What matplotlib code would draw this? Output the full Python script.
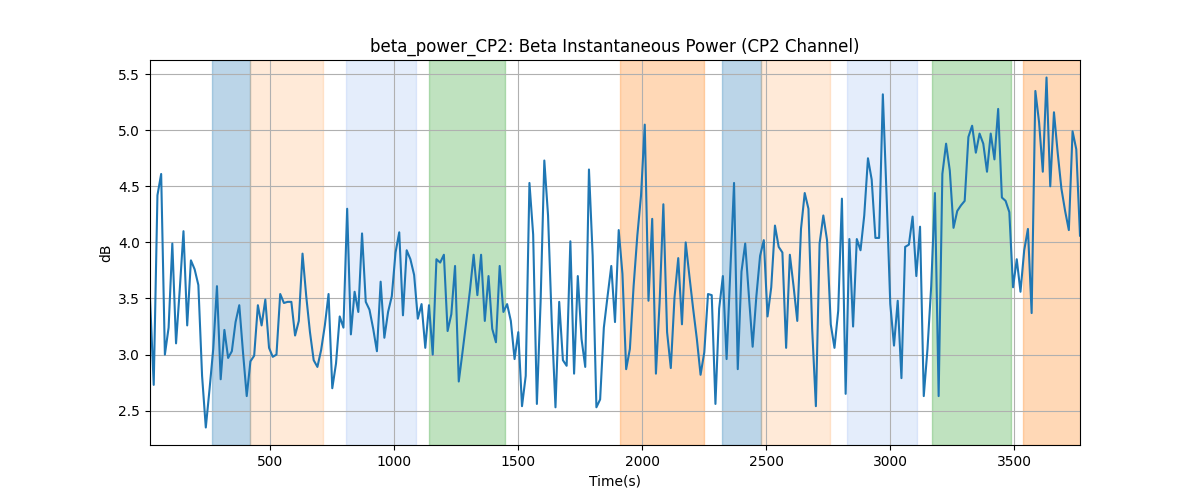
import matplotlib
matplotlib.use("Agg")
import matplotlib.pyplot as plt
import numpy as np

# beta power samples, one every 15 s
beta_power = [
    3.50, 2.73, 4.42, 4.61, 3.00, 3.24, 3.99, 3.10, 3.58, 4.10,
    3.26, 3.84, 3.76, 3.62, 2.81, 2.35, 2.69, 3.05, 3.61, 2.78,
    3.22, 2.97, 3.03, 3.29, 3.44, 3.02, 2.63, 2.94, 2.99, 3.44,
    3.26, 3.49, 3.06, 2.98, 3.00, 3.54, 3.46, 3.47, 3.47, 3.17,
    3.30, 3.90,
    3.52, 3.20, 2.95, 2.89, 3.04, 3.26, 3.54, 2.70, 2.92, 3.34,
    3.24, 4.30, 3.18, 3.56, 3.38, 4.08, 3.47, 3.40, 3.23, 3.03,
    3.65, 3.15, 3.38, 3.52, 3.91, 4.09, 3.35, 3.93, 3.85, 3.71,
    3.32, 3.45, 3.06, 3.44, 3.00, 3.85, 3.82, 3.89, 3.21, 3.36,
    3.79, 2.76,
    3.02, 3.29, 3.57, 3.89, 3.53, 3.89, 3.30, 3.70, 3.23, 3.11,
    3.79, 3.38, 3.45, 3.30, 2.96, 3.20, 2.54, 2.81, 4.53, 4.07,
    2.56, 3.47, 4.73, 4.24, 3.29, 2.53, 3.47, 2.95, 2.90, 4.01,
    2.83, 3.70, 3.14, 2.89, 4.65, 3.88, 2.53, 2.60, 3.24, 3.52,
    3.79, 3.29, 4.11, 3.72, 2.87, 3.05, 3.61, 4.06, 4.42, 5.05,
    3.48, 4.21, 2.83, 3.47, 4.34, 3.20, 2.88, 3.51, 3.86, 3.27,
    4.00, 3.70, 3.41, 3.14, 2.82, 3.02, 3.54, 3.53, 2.56, 3.41,
    3.70, 2.96, 3.75, 4.53, 2.87, 3.74, 3.99, 3.52, 3.07, 3.52,
    3.88,
    4.02, 3.34, 3.60, 4.15, 3.96, 3.91, 3.06, 3.89, 3.61, 3.30,
    4.12, 4.44, 4.30, 3.23, 2.54, 3.99, 4.24, 4.02, 3.27, 3.06,
    3.39, 4.39, 2.65, 4.03, 3.25, 4.03, 3.93, 4.24, 4.75, 4.56,
    4.04, 4.04, 5.32, 4.42, 3.45, 3.08, 3.48, 2.79, 3.96, 3.98,
    4.23, 3.70, 4.14, 2.63, 3.05, 3.61, 4.44, 2.63, 4.61, 4.88,
    4.64, 4.13, 4.28, 4.33, 4.37, 4.94, 5.04, 4.80, 4.97, 4.88,
    4.63, 4.97, 4.74, 5.19, 4.40, 4.37, 4.27, 3.60, 3.85, 3.56,
    3.93, 4.12, 3.37, 5.35, 5.07, 4.63, 5.47, 4.50, 5.16, 4.80,
    4.48, 4.28, 4.11, 4.99, 4.83, 4.06,
]
time_s = np.arange(1, len(beta_power) + 1) * 15

# shaded epochs: start, end, colour, alpha
epoch_start = [265, 419, 805, 1140, 1910, 2321, 2478, 2826, 3168, 3535]
epoch_end = [419, 711, 1086, 1445, 2248, 2478, 2756, 3107, 3486, 3800]
epoch_color = ['tab:blue', 'tab:orange', 'cornflowerblue', 'tab:green', 'tab:orange',
               'tab:blue', 'tab:orange', 'cornflowerblue', 'tab:green', 'tab:orange']
epoch_alpha = [0.3, 0.16, 0.17, 0.3, 0.3, 0.3, 0.16, 0.17, 0.3, 0.3]

fig, ax = plt.subplots(figsize=(12, 5), dpi=100)

for s, e, c, a in zip(epoch_start, epoch_end, epoch_color, epoch_alpha):
    ax.axvspan(s, e, color=c, alpha=a)

ax.plot(time_s, beta_power, color='tab:blue', lw=1.5)
ax.set_xlim(time_s[0], time_s[-1])
ax.grid(True)
ax.set_title('beta_power_CP2: Beta Instantaneous Power (CP2 Channel)')
ax.set_xlabel('Time(s)')
ax.set_ylabel('dB')

fig.savefig('out.png')
